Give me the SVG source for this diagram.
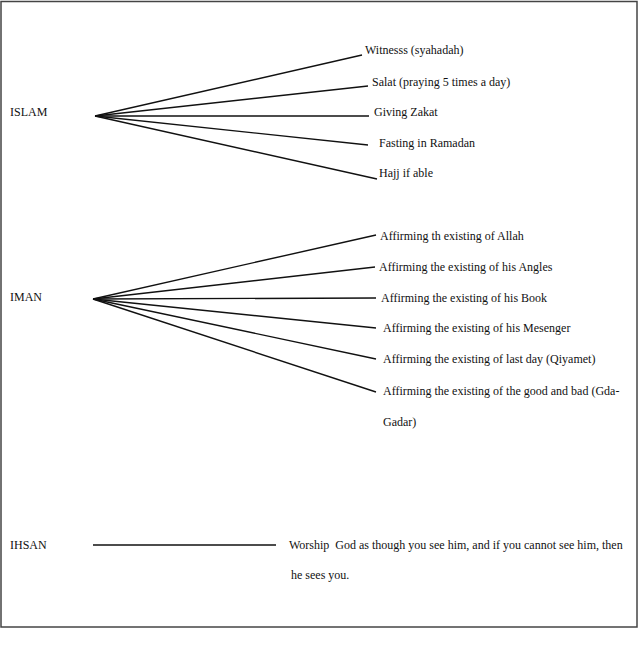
<svg xmlns="http://www.w3.org/2000/svg" width="642" height="653" viewBox="0 0 642 653">
<style>
text{font-family:"Liberation Serif","Times New Roman",serif;font-size:12px;fill:#111;white-space:pre}
.c line{stroke:#111;stroke-width:1.4;fill:none}
</style>
<rect width="642" height="653" fill="#fff"/>
<rect x="1" y="1.5" width="636" height="625.5" fill="none" stroke="#444" stroke-width="1.5"/>
<g id="islam"><text x="10" y="116">ISLAM</text></g>
<g id="witness"><text x="365" y="54">Witnesss (syahadah)</text></g>
<g id="salat"><text x="372" y="86">Salat (praying 5 times a day)</text></g>
<g id="zakat"><text x="374" y="116">Giving Zakat</text></g>
<g id="fasting"><text x="379" y="147">Fasting in Ramadan</text></g>
<g id="hajj"><text x="379" y="177">Hajj if able</text></g>
<g id="iman"><text x="10" y="301">IMAN</text></g>
<g id="allah"><text x="380" y="240">Affirming th existing of Allah</text></g>
<g id="angles"><text x="379" y="271">Affirming the existing of his Angles</text></g>
<g id="book"><text x="381" y="302">Affirming the existing of his Book</text></g>
<g id="mesenger"><text x="383" y="332">Affirming the existing of his Mesenger</text></g>
<g id="lastday"><text x="383" y="363">Affirming the existing of last day (Qiyamet)</text></g>
<g id="qadar"><text x="383" y="395">Affirming the existing of the good and bad (Gda-</text><text x="383" y="426">Gadar)</text></g>
<g id="ihsan"><text x="10" y="549">IHSAN</text></g>
<g id="ihsan-def"><text x="289" y="549">Worship  God as though you see him, and if you cannot see him, then</text><text x="291" y="579">he sees you.</text></g>
<g id="connectors" class="c">
<line x1="95" y1="116" x2="362" y2="55"/>
<line x1="95" y1="116" x2="368" y2="86"/>
<line x1="95" y1="116" x2="369" y2="116"/>
<line x1="95" y1="116" x2="368" y2="145"/>
<line x1="95" y1="116" x2="377" y2="179"/>
<line x1="93" y1="299" x2="376" y2="235"/>
<line x1="93" y1="299" x2="375" y2="267"/>
<line x1="93" y1="299" x2="376" y2="298"/>
<line x1="93" y1="299" x2="376" y2="328"/>
<line x1="93" y1="299" x2="376" y2="359"/>
<line x1="93" y1="299" x2="376" y2="392"/>
<line x1="93" y1="545" x2="276" y2="545"/>
</g>
</svg>
